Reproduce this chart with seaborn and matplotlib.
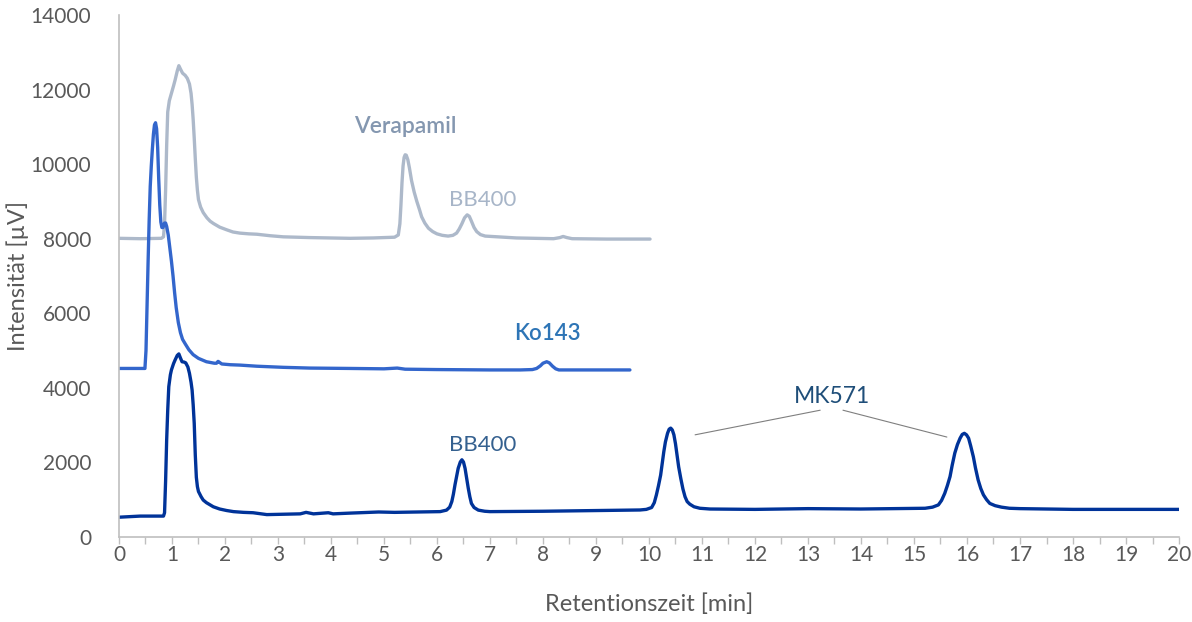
import matplotlib
matplotlib.use("Agg")
import matplotlib.pyplot as plt
from matplotlib.ticker import MultipleLocator
import pandas as pd
import seaborn as sns

# Chromatogram traces: retention time [min] and detector signal [µV]
verapamil_t = [0.00, 0.40, 0.80, 0.84, 0.86, 0.88, 0.90, 0.92, 0.95, 0.99, 1.03,
               1.06, 1.10, 1.13, 1.16, 1.20, 1.25, 1.29, 1.33, 1.36, 1.38, 1.40,
               1.42, 1.44, 1.46, 1.48, 1.50, 1.54, 1.59, 1.66, 1.72, 1.78, 1.90,
               2.03, 2.15, 2.28, 2.45, 2.60, 2.85, 3.10, 3.60, 4.36, 4.80, 5.20,
               5.27, 5.30, 5.32, 5.34, 5.36, 5.38, 5.40, 5.42, 5.45, 5.48, 5.52,
               5.57, 5.62, 5.67, 5.71, 5.77, 5.84, 5.92, 6.00, 6.10, 6.21, 6.30,
               6.37, 6.42, 6.47, 6.52, 6.57, 6.61, 6.65, 6.70, 6.75, 6.82, 6.91,
               7.50, 8.20, 8.32, 8.38, 8.45, 8.55, 9.20, 10.02]
verapamil_y = [8010, 8000, 8010, 8050, 8400, 9300, 10500, 11400, 11700, 11900, 12100,
               12260, 12500, 12640, 12550, 12440, 12380, 12300, 12150, 11900, 11600, 11200,
               10700, 10150, 9650, 9300, 9050, 8850, 8700, 8560, 8470, 8410, 8310,
               8240, 8180, 8150, 8130, 8120, 8080, 8050, 8030, 8010, 8020, 8040,
               8100, 8400, 8900, 9500, 9950, 10180, 10250, 10240, 10120, 9900, 9560,
               9250, 9000, 8780, 8590, 8420, 8280, 8190, 8130, 8090, 8070, 8090,
               8150, 8260, 8400, 8560, 8640, 8600, 8470, 8300, 8190, 8110, 8070,
               8020, 8000, 8030, 8060, 8030, 8000, 7990, 7990]

ko143_t = [0.00, 0.49, 0.51, 0.53, 0.55, 0.57, 0.59, 0.61, 0.63, 0.65, 0.67,
           0.69, 0.71, 0.73, 0.75, 0.77, 0.79, 0.81, 0.83, 0.86, 0.88, 0.90,
           0.93, 0.96, 0.99, 1.02, 1.05, 1.08, 1.12, 1.16, 1.20, 1.25, 1.32,
           1.40, 1.50, 1.65, 1.80, 1.84, 1.87, 1.90, 1.94, 2.10, 2.28, 2.60,
           3.10, 3.60, 4.36, 5.00, 5.25, 5.40, 6.00, 7.00, 7.57, 7.80, 7.88,
           7.95, 8.00, 8.07, 8.12, 8.18, 8.24, 8.30, 8.82, 9.64]
ko143_y = [4520, 4520, 5000, 6200, 7400, 8500, 9400, 9950, 10400, 10800, 11050,
           11110, 10950, 10450, 9600, 8900, 8450, 8300, 8300, 8420, 8420, 8330,
           8100, 7750, 7400, 7000, 6550, 6150, 5750, 5480, 5300, 5180, 5020,
           4890, 4790, 4700, 4660, 4660, 4710, 4680, 4640, 4620, 4610, 4580,
           4550, 4530, 4520, 4510, 4530, 4500, 4490, 4480, 4480, 4490, 4520,
           4590, 4660, 4700, 4670, 4580, 4510, 4480, 4480, 4480]

mk571_t = [0.00, 0.40, 0.84, 0.86, 0.88, 0.90, 0.92, 0.94, 0.97, 0.99, 1.03,
           1.06, 1.10, 1.13, 1.16, 1.19, 1.23, 1.26, 1.30, 1.33, 1.36, 1.38,
           1.40, 1.42, 1.44, 1.46, 1.48, 1.50, 1.55, 1.59, 1.65, 1.72, 1.78,
           1.90, 2.03, 2.16, 2.35, 2.53, 2.79, 3.10, 3.42, 3.53, 3.67, 3.95,
           4.04, 4.36, 4.90, 5.20, 5.60, 6.06, 6.18, 6.24, 6.28, 6.31, 6.34,
           6.37, 6.40, 6.44, 6.47, 6.50, 6.53, 6.56, 6.59, 6.62, 6.65, 6.70,
           6.78, 6.90, 7.00, 8.00, 9.00, 9.83, 9.95, 10.05, 10.10, 10.14, 10.18,
           10.22, 10.25, 10.28, 10.31, 10.35, 10.38, 10.41, 10.44, 10.47, 10.50,
           10.53, 10.56, 10.60, 10.64, 10.68, 10.72, 10.77, 10.85, 10.96, 11.15,
           12.00, 13.00, 14.00, 15.21, 15.35, 15.46, 15.52, 15.58, 15.63, 15.68,
           15.72, 15.77, 15.82, 15.87, 15.91, 15.95, 15.99, 16.03, 16.07, 16.12,
           16.16, 16.21, 16.26, 16.31, 16.37, 16.43, 16.53, 16.65, 16.80, 17.00,
           18.00, 19.00, 20.00]
mk571_y = [530, 560, 560, 650, 1500, 2600, 3400, 4030, 4350, 4480, 4650,
           4750, 4870, 4910, 4800, 4700, 4690, 4670, 4560, 4390, 4150, 3940,
           3550, 3050, 2200, 1600, 1350, 1220, 1080, 990, 920, 860, 810,
           750, 710, 680, 660, 650, 600, 610, 620, 660, 620, 650,
           620, 640, 670, 660, 670, 680, 720, 800, 950, 1150, 1400,
           1620, 1840, 2010, 2070, 2010, 1840, 1580, 1310, 1080, 900, 790,
           720, 690, 680, 690, 710, 724, 740, 790, 920, 1130, 1380,
           1660, 1980, 2290, 2550, 2780, 2890, 2920, 2870, 2740, 2500,
           2200, 1880, 1570, 1290, 1080, 950, 880, 810, 770, 750,
           740, 760, 750, 770, 800, 860, 980, 1170, 1380, 1620,
           1920, 2250, 2480, 2650, 2750, 2780, 2740, 2650, 2440, 2150,
           1850, 1530, 1300, 1130, 1000, 900, 840, 800, 770, 760,
           740, 740, 740]

# Peak labels: text, time, intensity, colour, size, weight
label_text = ["Verapamil", "BB400", "Ko143", "BB400", "MK571"]
label_t = [5.40, 6.86, 8.09, 6.87, 13.45]
label_y = [11000, 9050, 5450, 2470, 3760]
label_color = ["#8497b0", "#a7b5c8", "#2e75b6", "#34608f", "#1f4e79"]
label_size = [16.5, 16, 16, 16, 16.5]
label_weight = ["semibold", "normal", "semibold", "normal", "normal"]

# Leader lines from the MK571 label towards its two peaks
leader_start = [(13.23, 3400), (13.66, 3400)]
leader_end = [(10.87, 2740), (15.62, 2680)]

x_ticks = list(range(0, 21))
y_ticks = list(range(0, 14001, 2000))

frames = []
for name, t, y in [("Verapamil", verapamil_t, verapamil_y),
                   ("Ko143", ko143_t, ko143_y),
                   ("MK571", mk571_t, mk571_y)]:
    frames.append(pd.DataFrame({"t": t, "y": y, "trace": name}))
df = pd.concat(frames, ignore_index=True)

sns.set_theme(style="white")
plt.rcParams["font.family"] = ["Lato", "DejaVu Sans"]

fig = plt.figure(figsize=(11.92, 6.22), dpi=100)
ax = fig.add_axes([0.0998, 0.1367, 0.8893, 0.8392])

palette = {"Verapamil": "#adb9ca", "Ko143": "#3366cc", "MK571": "#003399"}
sns.lineplot(data=df, x="t", y="y", hue="trace", palette=palette,
             hue_order=["Verapamil", "Ko143", "MK571"], sort=False,
             estimator=None, linewidth=2.4, legend=False, ax=ax)

for (x0, y0), (x1, y1) in zip(leader_start, leader_end):
    ax.plot([x0, x1], [y0, y1], color="#7f7f7f", linewidth=0.8)

for txt, tx, ty, col, sz, wt in zip(label_text, label_t, label_y, label_color,
                                    label_size, label_weight):
    ax.text(tx, ty, txt, color=col, fontsize=sz, fontweight=wt,
            ha="center", va="center")

ax.set_xlim(0, 20)
ax.set_ylim(0, 14000)
ax.set_xticks(x_ticks)
ax.set_yticks(y_ticks)
ax.xaxis.set_minor_locator(MultipleLocator(0.5))

for side in ["top", "right"]:
    ax.spines[side].set_visible(False)
for side in ["left", "bottom"]:
    ax.spines[side].set_color("#bfbfbf")
    ax.spines[side].set_linewidth(1.2)

ax.tick_params(axis="x", which="both", direction="out", length=5, width=1,
               color="#bfbfbf", bottom=True, labelsize=15, labelcolor="#595959",
               pad=1)
ax.tick_params(axis="y", which="both", length=0, labelsize=15,
               labelcolor="#595959", pad=20)

ax.set_xlabel("Retentionszeit [min]", fontsize=17, color="#595959", labelpad=20)
ax.set_ylabel("Intensität [µV]", fontsize=17, color="#595959")
ax.yaxis.set_label_coords(-0.085, 0.5)
ax.grid(False)

fig.savefig("out.png", dpi=100)
